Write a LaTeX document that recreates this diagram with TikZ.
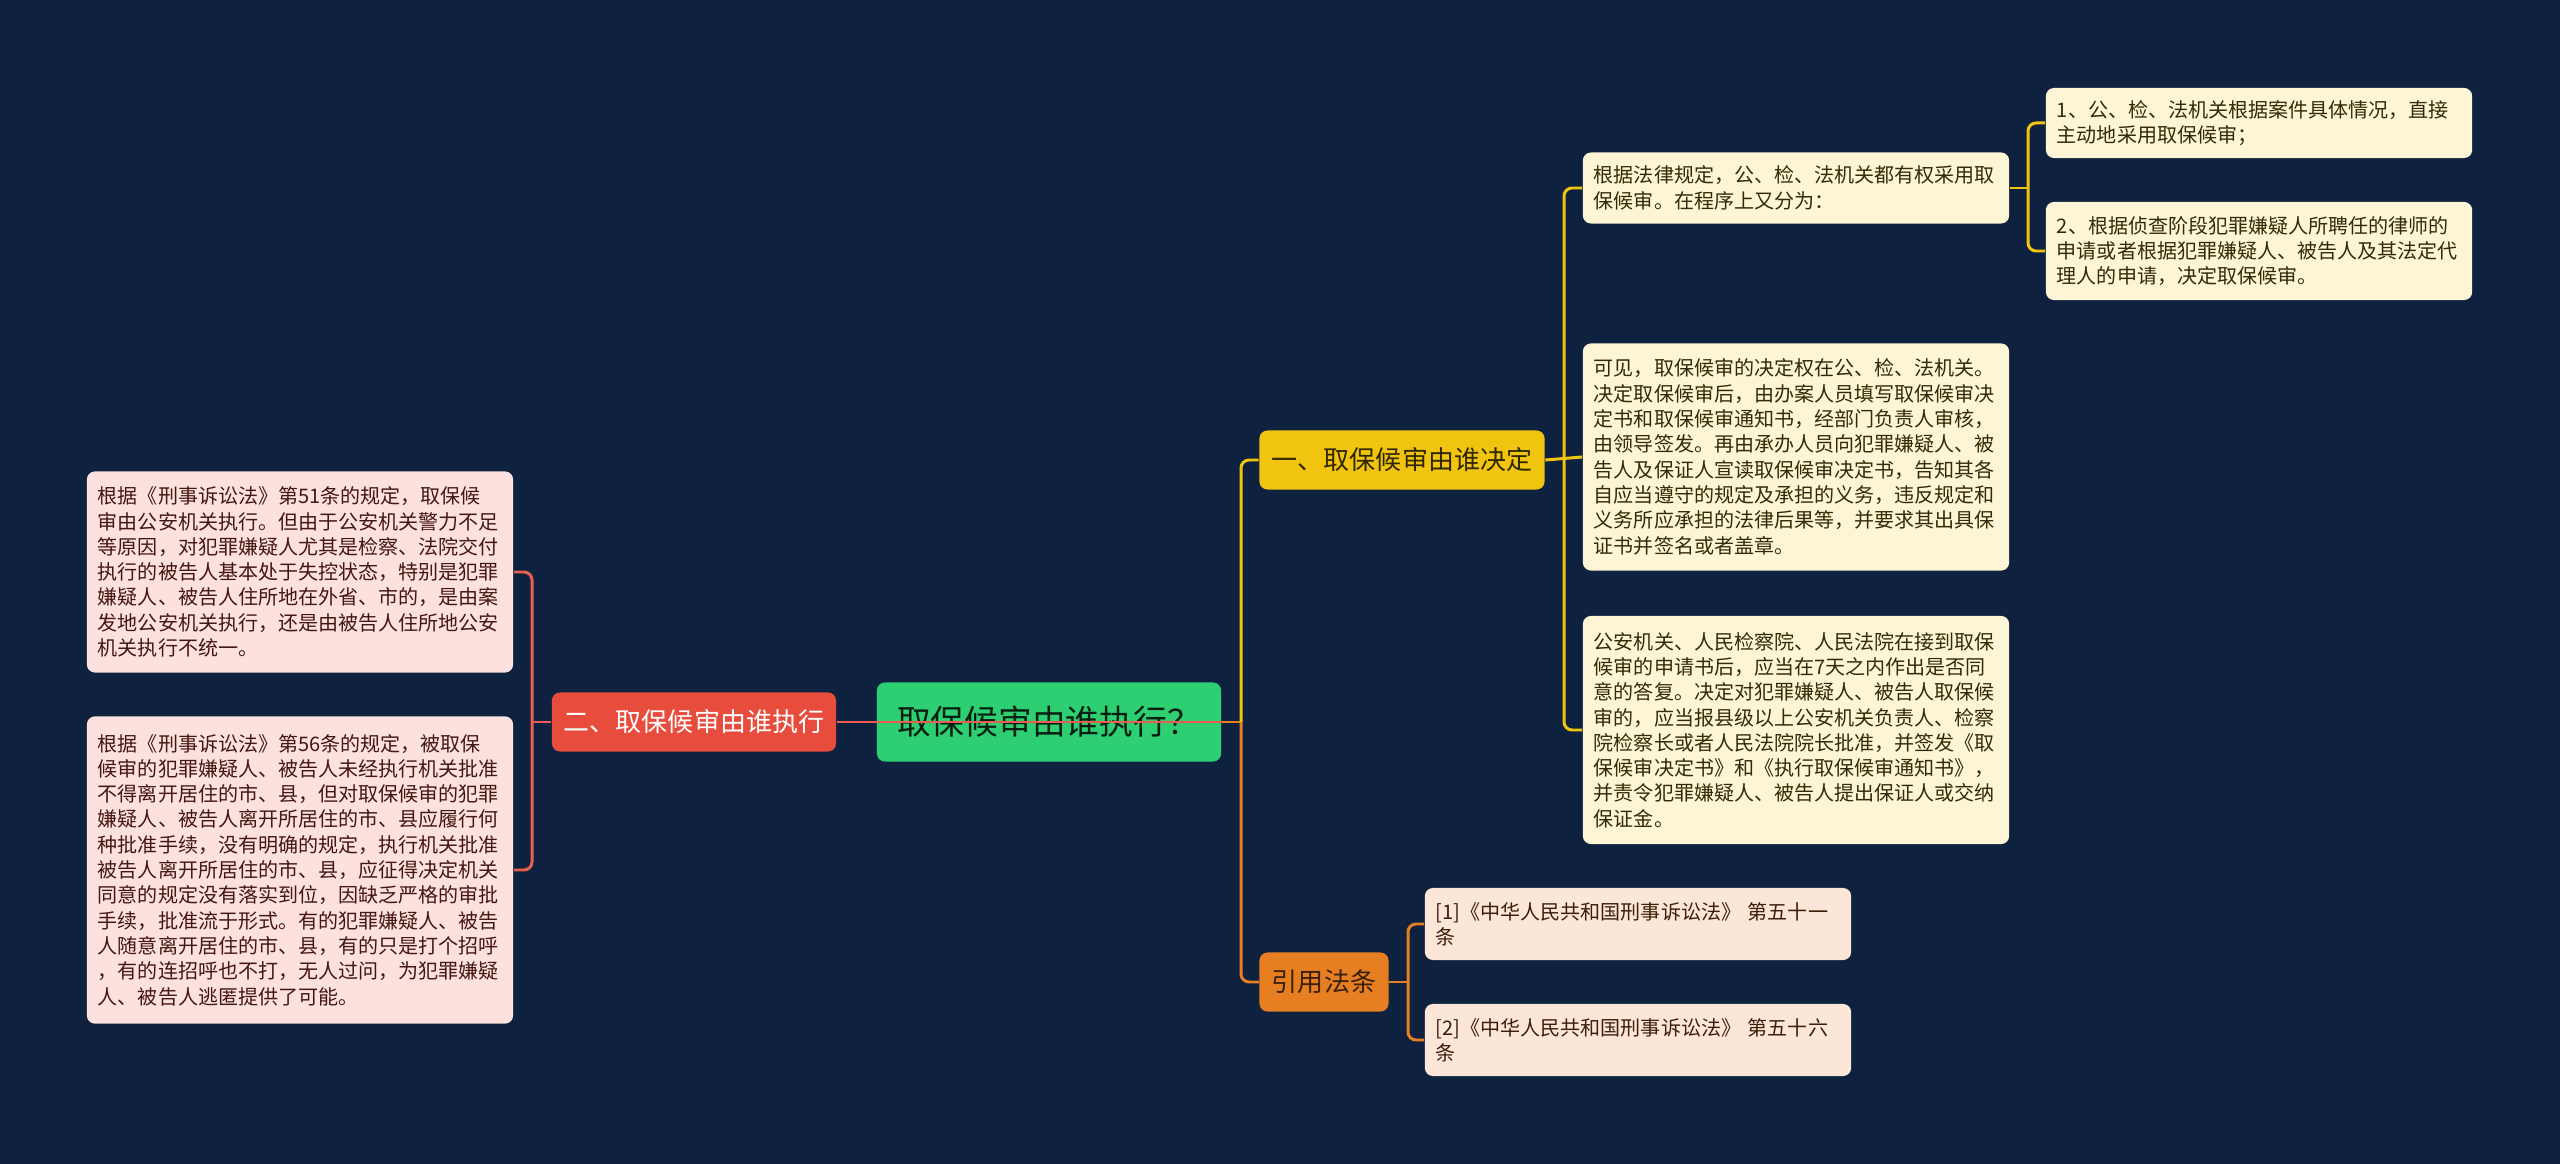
\documentclass[tikz,border=0pt]{standalone}
\usepackage{fontspec}
\usepackage{xcolor}
\usepackage{tikz}
\usetikzlibrary{calc,positioning}
\newfontfamily\cjk{Noto Sans CJK SC}

\definecolor{bgnavy}{HTML}{0E223F}
\definecolor{rootgreen}{HTML}{2ECF73}
\definecolor{execred}{HTML}{E74C3C}
\definecolor{decideyellow}{HTML}{F1C40F}
\definecolor{laworange}{HTML}{E67E22}
\definecolor{execleaf}{HTML}{FCE1DE}
\definecolor{decideleaf}{HTML}{FDF5D5}
\definecolor{lawleaf}{HTML}{FBE6D7}

\begin{document}
\begin{tikzpicture}[x=0.01cm,y=-0.01cm,
base/.style={
% The shape:
rectangle,rounded corners=0.08cm,
% The rest
inner sep=0pt,font=\cjk},
topic/.style={base,
minimum height=0.59cm,
font=\cjk\fontsize{7.4pt}{9pt}\selectfont},
leaf/.style={base,
text width=4.04cm,align=left,
inner xsep=0.11cm,
font=\cjk\fontsize{5.7pt}{7.2pt}\selectfont},
execleaf/.style={leaf,fill=execleaf,text=black!70!execred},
decideleaf/.style={leaf,fill=decideleaf,text=black!78!decideyellow},
lawleaf/.style={leaf,fill=lawleaf,text=black!75!laworange},
link/.style={line width=0.85pt,rounded corners=0.08cm}]

\fill[bgnavy] (0,0) rectangle (2560,1164);

\node (Root) [base,fill=rootgreen,text=black!85!rootgreen,
  minimum width=3.44cm,minimum height=0.79cm,
  font=\cjk\fontsize{9.6pt}{11pt}\selectfont] at (1049,722) {取保候审由谁执行？};

\node (ExecNode) [topic,fill=execred,text=white,minimum width=2.84cm] at (694,722) {二、取保候审由谁执行};
\node (DecideNode) [topic,fill=decideyellow,text=black!80!decideyellow,minimum width=2.85cm] at (1402,460) {一、取保候审由谁决定};
\node (LawNode) [topic,fill=laworange,text=black!75!laworange,minimum width=1.29cm] at (1324,982) {引用法条};

% left side
\node (Exec51) [execleaf,minimum height=2.01cm] at (300,572) {根据《刑事诉讼法》第51条的规定，取保候\\审由公安机关执行。但由于公安机关警力不足\\等原因，对犯罪嫌疑人尤其是检察、法院交付\\执行的被告人基本处于失控状态，特别是犯罪\\嫌疑人、被告人住所地在外省、市的，是由案\\发地公安机关执行，还是由被告人住所地公安\\机关执行不统一。};
\node (Exec56) [execleaf,minimum height=3.07cm] at (300,870) {根据《刑事诉讼法》第56条的规定，被取保\\候审的犯罪嫌疑人、被告人未经执行机关批准\\不得离开居住的市、县，但对取保候审的犯罪\\嫌疑人、被告人离开所居住的市、县应履行何\\种批准手续，没有明确的规定，执行机关批准\\被告人离开所居住的市、县，应征得决定机关\\同意的规定没有落实到位，因缺乏严格的审批\\手续，批准流于形式。有的犯罪嫌疑人、被告\\人随意离开居住的市、县，有的只是打个招呼\\，有的连招呼也不打，无人过问，为犯罪嫌疑\\人、被告人逃匿提供了可能。};

% right side
\node (Decide) [decideleaf,minimum height=0.71cm] at (1796,188) {根据法律规定，公、检、法机关都有权采用取\\保候审。在程序上又分为：};
\node (DecideOne) [decideleaf,minimum height=0.70cm] at (2259,123) {1、公、检、法机关根据案件具体情况，直接\\主动地采用取保候审；};
\node (DecideTwo) [decideleaf,minimum height=0.98cm] at (2259,251) {2、根据侦查阶段犯罪嫌疑人所聘任的律师的\\申请或者根据犯罪嫌疑人、被告人及其法定代\\理人的申请，决定取保候审。};
\node (DecideDoc) [decideleaf,minimum height=2.27cm] at (1796,457) {可见，取保候审的决定权在公、检、法机关。\\决定取保候审后，由办案人员填写取保候审决\\定书和取保候审通知书，经部门负责人审核，\\由领导签发。再由承办人员向犯罪嫌疑人、被\\告人及保证人宣读取保候审决定书，告知其各\\自应当遵守的规定及承担的义务，违反规定和\\义务所应承担的法律后果等，并要求其出具保\\证书并签名或者盖章。};
\node (DecideReply) [decideleaf,minimum height=2.28cm] at (1796,730) {公安机关、人民检察院、人民法院在接到取保\\候审的申请书后，应当在7天之内作出是否同\\意的答复。决定对犯罪嫌疑人、被告人取保候\\审的，应当报县级以上公安机关负责人、检察\\院检察长或者人民法院院长批准，并签发《取\\保候审决定书》和《执行取保候审通知书》，\\并责令犯罪嫌疑人、被告人提出保证人或交纳\\保证金。};
\node (Law51) [lawleaf,minimum height=0.72cm] at (1638,924) {[1]《中华人民共和国刑事诉讼法》 第五十一\\条};
\node (Law56) [lawleaf,minimum height=0.72cm] at (1638,1040) {[2]《中华人民共和国刑事诉讼法》 第五十六\\条};

% junctions
\coordinate (RootJoint) at (1241,722);
\coordinate (ExecJoint) at (532,722);
\coordinate (DecideJoint) at (1564,460);
\coordinate (StepJoint) at (2028,188);
\coordinate (LawJoint) at (1408,982);

% connectors
\draw[link,execred!90!white] (ExecNode.east) -- (Root.east);
\draw[link,execred!90!white] (ExecNode.west) -- (ExecJoint);
\draw[link,execred!90!white] (ExecJoint) |- (Exec51.east);
\draw[link,execred!90!white] (ExecJoint) |- (Exec56.east);

\draw[link,laworange] (Root.east) -- (RootJoint);
\draw[link,laworange] (RootJoint) |- (LawNode.west);
\draw[link,decideyellow] (RootJoint) |- (DecideNode.west);

\draw[link,decideyellow] (DecideNode.east) -- (DecideDoc.west);
\draw[link,decideyellow] (DecideJoint) |- (Decide.west);
\draw[link,decideyellow] (DecideJoint) |- (DecideReply.west);
\draw[link,decideyellow] (Decide.east) -- (StepJoint);
\draw[link,decideyellow] (StepJoint) |- (DecideOne.west);
\draw[link,decideyellow] (StepJoint) |- (DecideTwo.west);

\draw[link,laworange] (LawNode.east) -- (LawJoint);
\draw[link,laworange] (LawJoint) |- (Law51.west);
\draw[link,laworange] (LawJoint) |- (Law56.west);

\end{tikzpicture}
\end{document}
